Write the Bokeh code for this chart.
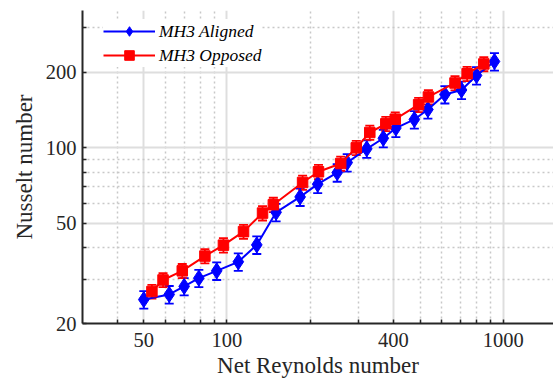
from bokeh.plotting import figure
from bokeh.models import (ColumnDataSource, Whisker, TeeHead, FixedTicker, Legend,
                          LegendItem, Range1d, PrintfTickFormatter)
from bokeh.embed import file_html
from bokeh.resources import INLINE

# ---- data ----
re_aligned = [50.0, 61.8, 70.0, 79.1, 91.8, 109.9, 128.2, 150.6, 184.0, 213.0, 250.6,
              272.4, 320.6, 368.0, 408.6, 476.7, 533.6, 614.8, 706.3, 800.3, 929.4]
nu_aligned = [24.9, 26.1, 28.1, 30.3, 32.4, 35.2, 41.1, 55.4, 63.8, 71.7, 79.7,
              87.4, 99.1, 109.2, 119.9, 129.7, 142.1, 163.1, 169.9, 194.1, 220.7]
err_aligned = [2.0, 2.1, 2.2, 2.4, 2.6, 2.8, 3.3, 4.4, 5.1, 5.7, 6.4,
               7.0, 7.9, 8.7, 9.6, 10.4, 11.4, 13.0, 13.6, 15.5, 17.7]

re_opposed = [53.5, 58.7, 68.9, 83.2, 97.1, 114.8, 134.5, 147.2, 187.8, 214.4,
              258.0, 293.8, 328.8, 375.8, 406.6, 494.0, 535.9, 668.9, 740.0, 850.4]
nu_opposed = [26.8, 29.8, 32.4, 37.1, 41.0, 46.4, 55.0, 59.4, 72.8, 80.3,
              86.6, 100.0, 115.1, 124.6, 130.0, 148.5, 159.4, 181.2, 197.2, 215.7]
err_opposed = [1.7, 1.9, 2.1, 2.4, 2.7, 3.0, 3.6, 3.9, 4.7, 5.2,
               5.6, 6.5, 7.5, 8.1, 8.5, 9.7, 10.4, 11.8, 12.8, 14.0]

series_labels = ["MH3 Aligned", "MH3 Opposed"]

x_ticks = [50, 100, 400, 1000]
x_minor = [40, 60, 70, 80, 90, 200, 300, 500, 600, 700, 800, 900]
y_ticks = [20, 50, 100, 200]
y_minor = [30, 40, 60, 70, 80, 90, 300]

x_label = "Net Reynolds number"
y_label = "Nusselt number"

AX = "#262626"
FONT = "'Liberation Serif', 'Times New Roman', serif"

p = figure(x_axis_type="log", y_axis_type="log",
           x_range=Range1d(30, 1520), y_range=Range1d(20, 352),
           width=553, height=386,
           min_border_left=82, min_border_right=0, min_border_top=10, min_border_bottom=63,
           output_backend="svg", toolbar_location=None)
p.outline_line_color = None
p.background_fill_color = "white"

for ax, ticks, minor in ((p.xaxis[0], x_ticks, x_minor), (p.yaxis[0], y_ticks, y_minor)):
    ax.ticker = FixedTicker(ticks=ticks, minor_ticks=minor)
    ax.formatter = PrintfTickFormatter(format="%d")
    ax.axis_line_color = AX
    ax.axis_line_width = 2
    ax.major_tick_line_color = AX
    ax.minor_tick_line_color = AX
    ax.major_tick_line_width = 1.5
    ax.minor_tick_line_width = 1.5
    ax.major_tick_in = 4
    ax.major_tick_out = 0
    ax.minor_tick_in = 4
    ax.minor_tick_out = 0
    ax.major_label_text_font = FONT
    ax.major_label_text_font_size = "20.5px"
    ax.major_label_text_color = AX
    ax.axis_label_text_font = FONT
    ax.axis_label_text_font_size = "23px"
    ax.axis_label_text_font_style = "normal"
    ax.axis_label_text_color = AX

p.xaxis.axis_label = x_label
p.yaxis.axis_label = y_label
p.xaxis.major_label_standoff = 9
p.yaxis.major_label_standoff = 6
p.xaxis.axis_label_standoff = 3
p.yaxis.axis_label_standoff = 6

for g in (p.xgrid[0], p.ygrid[0]):
    g.grid_line_color = "#dedede"
    g.grid_line_width = 2
    g.minor_grid_line_color = "#c8c8c8"
    g.minor_grid_line_width = 1.5
    g.minor_grid_line_dash = "2 3"

items = []
for re_v, nu_v, err_v, color, marker, size, lbl in (
        (re_aligned, nu_aligned, err_aligned, "#0000ff", "diamond", 16, series_labels[0]),
        (re_opposed, nu_opposed, err_opposed, "#ff0000", "square", 10.5, series_labels[1])):
    src = ColumnDataSource(dict(
        x=re_v, y=nu_v,
        upper=[a + b for a, b in zip(nu_v, err_v)],
        lower=[a - b for a, b in zip(nu_v, err_v)]))
    w = Whisker(source=src, base="x", upper="upper", lower="lower", dimension="height",
                line_color=color, line_width=1.8,
                upper_head=TeeHead(size=9, line_color=color, line_width=1.8),
                lower_head=TeeHead(size=9, line_color=color, line_width=1.8))
    p.add_layout(w)
    ln = p.line("x", "y", source=src, line_color=color, line_width=2)
    sc = p.scatter("x", "y", source=src, marker=marker, size=size,
                   fill_color=color, line_color=color)
    items.append(LegendItem(label=lbl, renderers=[ln, sc]))

legend = Legend(items=items, location=(21, 256))
legend.background_fill_color = "white"
legend.background_fill_alpha = 1
legend.border_line_color = None
legend.label_text_font = FONT
legend.label_text_font_style = "italic"
legend.label_text_font_size = "17.5px"
legend.label_text_color = "black"
legend.glyph_width = 52
legend.glyph_height = 24
legend.label_height = 20
legend.label_standoff = 4
legend.padding = 3
legend.spacing = -2
legend.margin = 0
p.add_layout(legend)

open("out.html", "w").write(file_html(p, INLINE))
